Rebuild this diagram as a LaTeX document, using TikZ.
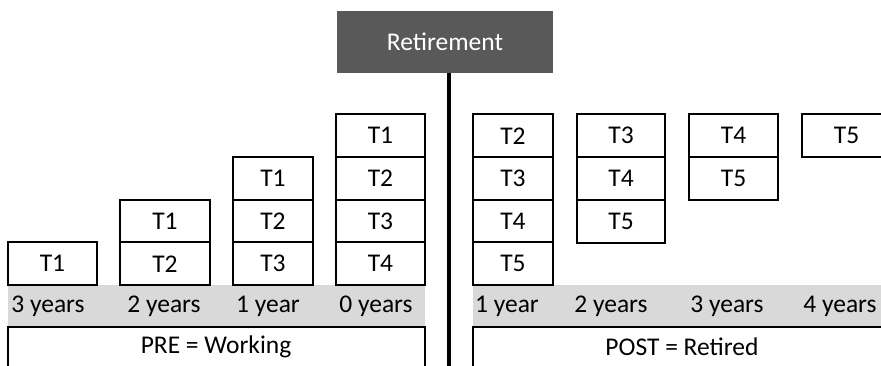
\documentclass[tikz,border=0pt]{standalone}
\usepackage{fontspec}
\setmainfont{Carlito}
\newcommand\dgmfont{\fontsize{25.5}{29}\selectfont}
\begin{document}
\begin{tikzpicture}[x=1pt,y=-1pt,
  tbox/.style={draw=black,line width=2pt,fill=white,inner sep=0pt,minimum height=42.75pt,font=\dgmfont},
  band/.style={fill=bandgray,draw=none},
  yearlbl/.style={inner sep=0pt,font=\dgmfont,anchor=center},
  phase/.style={draw=black,line width=2pt,fill=white},
  retbox/.style={fill=retgray,draw=none,text=white,font=\dgmfont,inner sep=0pt,minimum width=216pt,minimum height=62pt},
  axis/.style={line width=3.5pt,black}]
\definecolor{bandgray}{HTML}{D9D9D9}
\definecolor{retgray}{HTML}{595959}
\useasboundingbox (0,0) rectangle (881,365);

% grey year bands
\path[band] (8,285) rectangle (425,327);
\path[band] (473,285) rectangle (891,327);

% phase boxes
\draw[phase] (8,327) rectangle (425,372);
\draw[phase] (473,327) rectangle (891,372);
\node[font=\dgmfont,inner sep=0pt] (pre) at (216,347) {PRE = Working};
\node[font=\dgmfont,inner sep=0pt] (post) at (682,347) {POST = Retired};

% year labels
\node[yearlbl] (y3) at (48,306) {3 years};
\node[yearlbl] (y2) at (164,306) {2 years};
\node[yearlbl] (y1) at (268,306) {1 year};
\node[yearlbl] (y0) at (376,306) {0 years};
\node[yearlbl] (p1) at (507,306) {1 year};
\node[yearlbl] (p2) at (611,306) {2 years};
\node[yearlbl] (p3) at (727,306) {3 years};
\node[yearlbl] (p4) at (840,306) {4 years};

% left columns
\node[tbox,minimum width=89pt] (c1a) at (52.5,263.75) {T1};

\node[tbox,minimum width=90pt] (c2a) at (165,221.25) {T1};
\node[tbox,minimum width=90pt] (c2b) at (165,263.75) {T2};

\node[tbox,minimum width=80pt] (c3a) at (273,178.5) {T1};
\node[tbox,minimum width=80pt] (c3b) at (273,221.25) {T2};
\node[tbox,minimum width=80pt] (c3c) at (273,263.75) {T3};

\node[tbox,minimum width=89pt] (c4a) at (380.5,135.75) {T1};
\node[tbox,minimum width=89pt] (c4b) at (380.5,178.5) {T2};
\node[tbox,minimum width=89pt] (c4c) at (380.5,221.25) {T3};
\node[tbox,minimum width=89pt] (c4d) at (380.5,263.75) {T4};

% right columns
\node[tbox,minimum width=80pt] (dAa) at (513,135.75) {T2};
\node[tbox,minimum width=80pt] (dAb) at (513,178.5) {T3};
\node[tbox,minimum width=80pt] (dAc) at (513,221.25) {T4};
\node[tbox,minimum width=80pt] (dAd) at (513,263.75) {T5};

\node[tbox,minimum width=88pt] (dBa) at (621,135.75) {T3};
\node[tbox,minimum width=88pt] (dBb) at (621,178.5) {T4};
\node[tbox,minimum width=88pt] (dBc) at (621,221.25) {T5};

\node[tbox,minimum width=89pt] (dCa) at (733.5,135.75) {T4};
\node[tbox,minimum width=89pt] (dCb) at (733.5,178.5) {T5};

\node[tbox,minimum width=89pt] (dDa) at (846.5,135.75) {T5};

% retirement marker
\node[retbox] (ret) at (445,42) {Retirement};
\coordinate (vtop) at (449,73);
\coordinate (vbot) at (449,366);
\draw[axis] (vtop) -- (vbot);
\end{tikzpicture}
\end{document}
